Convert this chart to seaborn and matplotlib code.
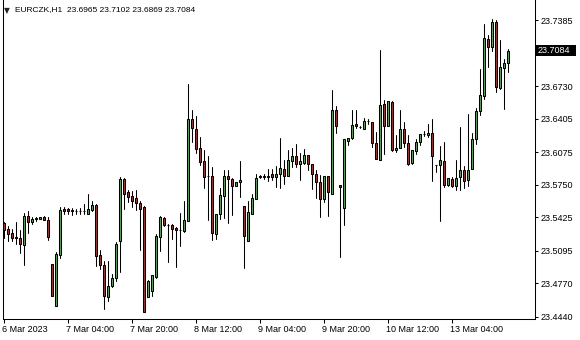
import numpy as np
import pandas as pd
import matplotlib
matplotlib.use("Agg")
import matplotlib.pyplot as plt
import matplotlib.transforms as mtransforms
from matplotlib.patches import Rectangle
import seaborn as sns

symbol = "EURCZK,H1"

opens = [23.5375, 23.5306, 23.5266, 23.5226, 23.5223, 23.5154, 23.5435, 23.5382, 23.5408, 23.5415,
         23.5432, 23.5405, 23.4964, 23.4542, 23.5047, 23.5512, 23.5505, 23.5500, 23.5492, 23.5490,
         23.5488, 23.5462, 23.5495, 23.5554, 23.5047, 23.4957, 23.4636, 23.4739, 23.4825, 23.5196,
         23.5810, 23.5677, 23.5634, 23.5617, 23.5571, 23.5527, 23.4632, 23.4692, 23.4831, 23.5229,
         23.5422, 23.5355, 23.5346, 23.5323, 23.5303, 23.5289, 23.5395, 23.6407, 23.6308, 23.6119,
         23.5992, 23.5836, 23.5833, 23.5256, 23.5455, 23.5637, 23.5833, 23.5810, 23.5737, 23.5776,
         23.5535, 23.5189, 23.5455, 23.5611, 23.5833, 23.5831, 23.5840, 23.5860, 23.5826, 23.5860,
         23.5906, 23.5833, 23.5985, 23.6032, 23.5959, 23.5965, 23.6042, 23.5959, 23.5860, 23.5783,
         23.5611, 23.5840, 23.5661, 23.6490, 23.5750, 23.5522, 23.6191, 23.6218, 23.6357, 23.6324,
         23.6301, 23.6384, 23.6380, 23.6168, 23.5999, 23.6556, 23.6334, 23.6572, 23.6092, 23.6119,
         23.6301, 23.6168, 23.5965, 23.6085, 23.6174, 23.6256, 23.6248, 23.6268, 23.5952, 23.5949,
         23.5992, 23.5750, 23.5810, 23.5737, 23.5826, 23.5900, 23.5800, 23.5910, 23.6208, 23.6480,
         23.6632, 23.7203, 23.7120, 23.7375, 23.6716, 23.6915, 23.6965]

highs = [23.5385, 23.5336, 23.5306, 23.5385, 23.5296, 23.5468, 23.5485, 23.5428, 23.5428, 23.5432,
         23.5435, 23.5428, 23.4967, 23.5080, 23.5534, 23.5527, 23.5522, 23.5522, 23.5512, 23.5522,
         23.5561, 23.5654, 23.5587, 23.5564, 23.5097, 23.4992, 23.4997, 23.4865, 23.5179, 23.5826,
         23.5820, 23.5694, 23.5684, 23.5694, 23.5587, 23.5538, 23.4800, 23.4848, 23.5263, 23.5438,
         23.5428, 23.5362, 23.5362, 23.5329, 23.5472, 23.5587, 23.6755, 23.6497, 23.6430, 23.6224,
         23.6099, 23.6039, 23.5926, 23.5462, 23.5717, 23.5893, 23.5893, 23.5820, 23.5783, 23.5992,
         23.5535, 23.5594, 23.5654, 23.5853, 23.5843, 23.5853, 23.5903, 23.5903, 23.5942, 23.6218,
         23.5999, 23.6092, 23.6119, 23.6158, 23.6065, 23.6109, 23.6042, 23.5959, 23.5900, 23.5843,
         23.5840, 23.5840, 23.6689, 23.6539, 23.5750, 23.6208, 23.6218, 23.6490, 23.6490, 23.6331,
         23.6417, 23.6407, 23.6380, 23.6274, 23.7087, 23.6596, 23.6582, 23.6582, 23.6241, 23.6490,
         23.6373, 23.6241, 23.6092, 23.6208, 23.6258, 23.6281, 23.6357, 23.6407, 23.5952, 23.6141,
         23.6174, 23.5820, 23.5826, 23.5999, 23.6324, 23.5933, 23.6457, 23.6264, 23.6513, 23.6905,
         23.7352, 23.7236, 23.7395, 23.7385, 23.7186, 23.7004, 23.7102]

lows = [23.5223, 23.5196, 23.5189, 23.5163, 23.5070, 23.4948, 23.5269, 23.5362, 23.5388, 23.5410,
        23.5399, 23.5206, 23.4639, 23.4540, 23.5020, 23.5462, 23.5462, 23.5452, 23.5462, 23.5462,
        23.5455, 23.5460, 23.5485, 23.4941, 23.4915, 23.4517, 23.4596, 23.4732, 23.4798, 23.4881,
        23.5512, 23.5577, 23.5525, 23.5495, 23.5097, 23.4480, 23.4630, 23.4642, 23.4825, 23.5090,
        23.5342, 23.4980, 23.5213, 23.4931, 23.5146, 23.5279, 23.5388, 23.6174, 23.6069, 23.5949,
        23.5717, 23.5405, 23.5203, 23.5213, 23.5412, 23.5422, 23.5368, 23.5445, 23.5737, 23.5627,
        23.4925, 23.5189, 23.5455, 23.5611, 23.5820, 23.5810, 23.5793, 23.5803, 23.5727, 23.5721,
        23.5760, 23.5833, 23.5926, 23.5926, 23.5803, 23.5959, 23.5900, 23.5711, 23.5617, 23.5428,
        23.5577, 23.5438, 23.5661, 23.6268, 23.5030, 23.5346, 23.6151, 23.6208, 23.6318, 23.6318,
        23.6301, 23.6357, 23.6125, 23.6005, 23.5999, 23.6059, 23.6334, 23.6085, 23.6075, 23.6119,
        23.6125, 23.5952, 23.5959, 23.6059, 23.6151, 23.6238, 23.6224, 23.5786, 23.5876, 23.5388,
        23.5727, 23.5734, 23.5724, 23.5694, 23.5701, 23.5721, 23.5734, 23.5910, 23.6158, 23.6447,
        23.6606, 23.6921, 23.7080, 23.6672, 23.6706, 23.6500, 23.6869]

closes = [23.5301, 23.5263, 23.5223, 23.5220, 23.5161, 23.5435, 23.5377, 23.5412, 23.5420, 23.5427,
          23.5402, 23.5229, 23.4642, 23.5057, 23.5502, 23.5488, 23.5485, 23.5490, 23.5490, 23.5492,
          23.5492, 23.5512, 23.5551, 23.5040, 23.4954, 23.4639, 23.4739, 23.4825, 23.5163, 23.5810,
          23.5661, 23.5627, 23.5594, 23.5567, 23.5512, 23.4483, 23.4798, 23.4848, 23.5236, 23.5428,
          23.5348, 23.5353, 23.5306, 23.5303, 23.5305, 23.5402, 23.6407, 23.6314, 23.6102, 23.5975,
          23.5826, 23.5834, 23.5269, 23.5462, 23.5644, 23.5833, 23.5810, 23.5734, 23.5783, 23.5803,
          23.5239, 23.5478, 23.5617, 23.5820, 23.5831, 23.5833, 23.5826, 23.5826, 23.5860, 23.5920,
          23.5833, 23.6002, 23.6032, 23.5959, 23.5985, 23.6042, 23.5959, 23.5860, 23.5776, 23.5611,
          23.5840, 23.5677, 23.6490, 23.6334, 23.5727, 23.6208, 23.6218, 23.6341, 23.6331, 23.6326,
          23.6390, 23.6386, 23.6168, 23.6005, 23.6549, 23.6334, 23.6582, 23.6092, 23.6119, 23.6301,
          23.6168, 23.5959, 23.6092, 23.6181, 23.6258, 23.6258, 23.6268, 23.6035, 23.5950, 23.6002,
          23.5750, 23.5820, 23.5737, 23.5820, 23.5900, 23.5793, 23.5893, 23.6208, 23.6480, 23.6639,
          23.7213, 23.7120, 23.7375, 23.6722, 23.6921, 23.6964, 23.7084]

time_labels = ["6 Mar 2023", "7 Mar 04:00", "7 Mar 20:00", "8 Mar 12:00",
               "9 Mar 04:00", "9 Mar 20:00", "10 Mar 12:00", "13 Mar 04:00"]
bars_per_label = 16

price_ticks = [23.7385, 23.6730, 23.6405, 23.6075, 23.5750,
               23.5425, 23.5095, 23.4770, 23.4440]

# ---------------------------------------------------------------- style
sns.set_style("white")
plt.rcParams["font.family"] = ["Liberation Sans", "DejaVu Sans"]

GREEN = "#3fb93f"
RED = "#dc1a1a"

W, HPX = 580, 340
left_px, right_px, bottom_px = 2.5, 534.5, 318.5
PX_PER_PRICE = 1005.1
REF_PRICE, REF_ROW = 23.4440, 316.5

fig = plt.figure(figsize=(W / 100, HPX / 100), dpi=100)
fig.patch.set_facecolor("white")
ax = fig.add_axes([left_px / W, 1 - bottom_px / HPX,
                   (right_px - left_px) / W, bottom_px / HPX])
ax.set_facecolor("white")

df = pd.DataFrame({"open": opens, "high": highs, "low": lows, "close": closes})
df["bar"] = np.arange(len(df))

# wicks through seaborn (one vertical segment per bar)
wicks = pd.concat([
    df[["bar"]].assign(price=df["low"]),
    df[["bar"]].assign(price=df["high"]),
])
sns.lineplot(data=wicks, x="bar", y="price", units="bar", estimator=None,
             color="black", linewidth=0.75, legend=False, ax=ax, zorder=2)

# bodies
body_bottom = np.minimum(df["open"], df["close"])
body_height = np.maximum((df["close"] - df["open"]).abs(), 1e-5)
body_color = np.where(df["close"] >= df["open"], GREEN, RED)
ax.bar(df["bar"], body_height, bottom=body_bottom, width=0.5,
       color=body_color, edgecolor="black", linewidth=0.75, zorder=3)

# scales
ax.set_xlim((left_px - 3.5) / 4, (right_px - 3.5) / 4)
ax.set_ylim(REF_PRICE - (bottom_px - REF_ROW) / PX_PER_PRICE,
            REF_PRICE + REF_ROW / PX_PER_PRICE)
ax.set_xlabel("")
ax.set_ylabel("")

for side in ("left", "right", "bottom"):
    ax.spines[side].set_visible(True)
    ax.spines[side].set_color("black")
    ax.spines[side].set_linewidth(0.75)
ax.spines["top"].set_visible(False)

ax.yaxis.tick_right()
ax.set_yticks(price_ticks)
ax.set_yticklabels([f"{v:.4f}" for v in price_ticks])
ax.tick_params(axis="y", which="both", right=True, left=False, direction="out",
               length=2.5, width=0.75, pad=1.8, labelsize=6.5, colors="black")

ax.set_xticks(np.arange(len(time_labels)) * bars_per_label)
ax.set_xticklabels(time_labels)
ax.tick_params(axis="x", which="both", bottom=True, direction="out",
               length=3, width=0.75, pad=1.5, labelsize=6.5, colors="black")
offset = mtransforms.ScaledTranslation(-1.5 / 100, 0, fig.dpi_scale_trans)
for lbl in ax.get_xticklabels():
    lbl.set_horizontalalignment("left")
    lbl.set_transform(lbl.get_transform() + offset)

# current price marker on the price scale
last = df.iloc[-1]
blend = mtransforms.blended_transform_factory(fig.transFigure, ax.transData)
half_h = 5.5 / PX_PER_PRICE
fig.add_artist(Rectangle((535.5 / W, last["close"] - half_h), 40 / W, 2 * half_h,
                         transform=blend, facecolor="black", edgecolor="none",
                         zorder=5, clip_on=False))
fig.text(538 / W, last["close"], f"{last['close']:.4f}", transform=blend,
         color="white", fontsize=6.5, va="center", ha="left", zorder=6)

# header text
fig.text(4 / W, 1 - 10.5 / HPX, "\u25BC", fontsize=5.5, va="center", ha="left",
         family=["DejaVu Sans"])
fig.text(15 / W, 1 - 10 / HPX,
         f"{symbol}  {last['open']:.4f} {last['high']:.4f} {last['low']:.4f} {last['close']:.4f}",
         fontsize=6.0, va="center", ha="left", color="black")

fig.savefig("out.png", dpi=100, facecolor="white")
